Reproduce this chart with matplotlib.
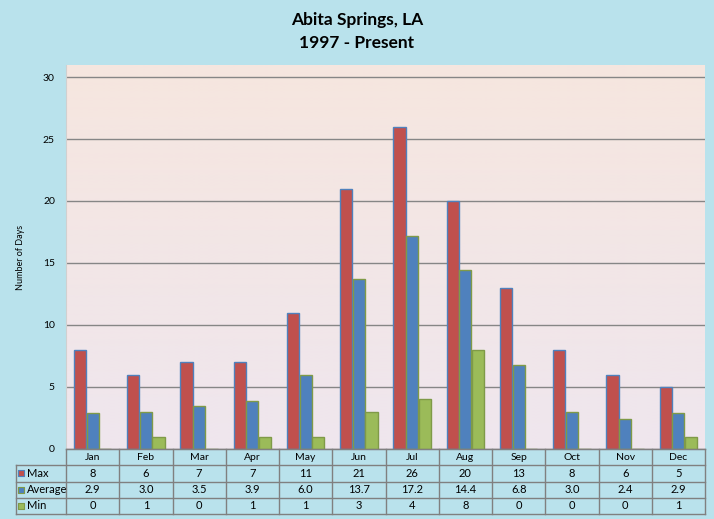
import matplotlib.pyplot as plt
import numpy as np

# data
months = ['Jan', 'Feb', 'Mar', 'Apr', 'May', 'Jun',
          'Jul', 'Aug', 'Sep', 'Oct', 'Nov', 'Dec']
max_days = [8, 6, 7, 7, 11, 21, 26, 20, 13, 8, 6, 5]
avg_days = [2.9, 3.0, 3.5, 3.9, 6.0, 13.7, 17.2, 14.4, 6.8, 3.0, 2.4, 2.9]
min_days = [0, 1, 0, 1, 1, 3, 4, 8, 0, 0, 0, 1]

series = [('Max', max_days, '#C0504D', '#4F81BD', '{:d}'),
          ('Average', avg_days, '#4F81BD', '#7F9A48', '{:.1f}'),
          ('Min', min_days, '#9BBB59', '#7F9A48', '{:d}')]

W, H = 714, 519
bg = '#B9E2EC'
grid_col = '#868686'
plt.rcParams['font.family'] = ['Lato', 'DejaVu Sans']

fig = plt.figure(figsize=(W / 100, H / 100), dpi=100)
fig.patch.set_facecolor(bg)

# main plot area in pixel positions
L, R, T, B = 66, 705, 65, 449
ax = fig.add_axes([L / W, 1 - B / H, (R - L) / W, (B - T) / H])
ax.set_xlim(-0.5, 11.5)
ax.set_ylim(0, 30 * (B - T) / (B - 77))

# gradient background of the plot area
grad = np.linspace(0, 1, 256).reshape(-1, 1)
top_c = np.array([0xF6, 0xE6, 0xDF]) / 255
bot_c = np.array([0xEF, 0xE6, 0xEE]) / 255
img = top_c * (1 - grad[..., None]) + bot_c * grad[..., None]
ax.imshow(img, extent=[-0.5, 11.5, 0, ax.get_ylim()[1]], aspect='auto',
          origin='upper', zorder=0)

x = np.arange(len(months))
width = 0.23
offsets = [-0.236, 0, 0.236]
for (name, vals, fc, ec, _), off in zip(series, offsets):
    ax.bar(x + off, vals, width, color=fc, edgecolor=ec, linewidth=1, zorder=3)

ax.set_yticks(range(0, 31, 5))
ax.yaxis.grid(True, color=grid_col, linewidth=1)
ax.set_axisbelow(True)
ax.tick_params(axis='y', length=0, labelsize=7.5, pad=8)
ax.set_xticks([])
for s in ['top', 'right']:
    ax.spines[s].set_visible(False)
ax.spines['left'].set_color('#D0D0D0')
ax.spines['bottom'].set_color(grid_col)
ax.set_ylabel('Number of Days', fontsize=6.5, labelpad=13)

# data table below the plot
TL, TB = 16, 514
px = (R - L) / 12.0
tax = fig.add_axes([TL / W, 1 - TB / H, (R - TL) / W, (TB - B) / H])
x0 = -0.5 - (L - TL) / px
tax.set_xlim(x0, 11.5)
tax.set_ylim(4, 0)
tax.axis('off')
tax.patch.set_visible(False)

lc = '#808080'
# horizontal lines
tax.plot([-0.5, 11.5], [0, 0], color=lc, lw=1, clip_on=False)
for r in range(1, 5):
    tax.plot([x0, 11.5], [r, r], color=lc, lw=1, clip_on=False)
# vertical lines
tax.plot([x0, x0], [1, 4], color=lc, lw=1, clip_on=False)
for c in range(13):
    tax.plot([c - 0.5, c - 0.5], [0, 4], color=lc, lw=1, clip_on=False)

for i, m in enumerate(months):
    tax.text(i, 0.5, m, ha='center', va='center', fontsize=7.5)

for r, (name, vals, fc, ec, fmt) in enumerate(series, start=1):
    tax.scatter([x0 + 0.1], [r + 0.5], marker='s', s=22, color=fc,
                edgecolor=ec, linewidth=0.8, clip_on=False)
    tax.text(x0 + 0.2, r + 0.5, name, ha='left', va='center', fontsize=8)
    for i, v in enumerate(vals):
        tax.text(i, r + 0.5, fmt.format(v), ha='center', va='center',
                 fontsize=8)

fig.text(357 / W, 1 - 20 / H, 'Abita Springs, LA', ha='center', va='center',
         fontsize=12.5, fontweight='bold')
fig.text(357 / W, 1 - 43 / H, '1997 - Present', ha='center', va='center',
         fontsize=12.5, fontweight='bold')

fig.savefig('out.png', dpi=100, facecolor=bg)
